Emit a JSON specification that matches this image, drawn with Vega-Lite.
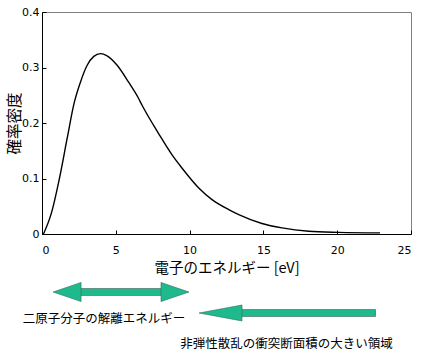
{
  "$schema": "https://vega.github.io/schema/vega-lite/v6.json",
  "padding": {"left": 7, "top": 5, "right": 5, "bottom": 3},
  "background": "white",
  "config": {"view": {"stroke": null}, "font": "Noto Sans CJK JP"},
  "spacing": 6,
  "vconcat": [
    {
      "width": 369,
      "height": 222,
      "view": {"stroke": "#808080", "strokeWidth": 1},
      "data": {"values": [
        {"energy": 0.1, "density": 0},
        {"energy": 0.64, "density": 0.038},
        {"energy": 1.14, "density": 0.095},
        {"energy": 1.71, "density": 0.173},
        {"energy": 2.16, "density": 0.234},
        {"energy": 2.61, "density": 0.274},
        {"energy": 3.06, "density": 0.304},
        {"energy": 3.51, "density": 0.32},
        {"energy": 3.96, "density": 0.325},
        {"energy": 4.41, "density": 0.321},
        {"energy": 5.09, "density": 0.304},
        {"energy": 5.88, "density": 0.273},
        {"energy": 6.51, "density": 0.246},
        {"energy": 6.78, "density": 0.232},
        {"energy": 7.9, "density": 0.181},
        {"energy": 8.8, "density": 0.143},
        {"energy": 9.48, "density": 0.119},
        {"energy": 10.62, "density": 0.083},
        {"energy": 11.52, "density": 0.062},
        {"energy": 12.65, "density": 0.044},
        {"energy": 13.33, "density": 0.035},
        {"energy": 14.9, "density": 0.019},
        {"energy": 16.26, "density": 0.011},
        {"energy": 18.07, "density": 0.005},
        {"energy": 20.1, "density": 0.003},
        {"energy": 22.9, "density": 0.002}
      ]},
      "mark": {"type": "line", "color": "black", "strokeWidth": 1.4, "interpolate": "monotone"},
      "encoding": {
        "x": {
          "field": "energy", "type": "quantitative",
          "scale": {"domain": [0, 25], "nice": false},
          "axis": {
            "values": [0, 5, 10, 15, 20, 25], "title": "電子のエネルギー [eV]", "grid": false,
            "tickSize": -4, "labelPadding": 14, "titlePadding": 6,
            "domainColor": "black", "tickColor": "black", "labelColor": "black", "titleColor": "black",
            "labelFont": "DejaVu Sans", "labelFontSize": 11, "titleFont": "Noto Sans CJK JP",
            "titleFontSize": 14.5, "titleFontWeight": "normal"
          }
        },
        "y": {
          "field": "density", "type": "quantitative",
          "scale": {"domain": [0, 0.4], "nice": false},
          "axis": {
            "values": [0, 0.1, 0.2, 0.3, 0.4], "format": ".1~f", "title": "確率密度", "grid": false,
            "tickSize": -4, "labelPadding": 7, "titlePadding": -1,
            "domainColor": "black", "tickColor": "black", "labelColor": "black", "titleColor": "black",
            "labelFont": "DejaVu Sans", "labelFontSize": 11, "titleFont": "Noto Sans CJK JP",
            "titleFontSize": 15.5, "titleFontWeight": "normal"
          }
        }
      }
    },
    {
      "width": 369,
      "height": 50,
      "layer": [
        {
          "data": {"values": [
            {"arrow": "解離", "from": 0.75, "to": 9.96, "row": "a"}
          ]},
          "mark": {"type": "rule", "strokeWidth": 7.5, "color": "#2f6f5c", "strokeCap": "butt", "xOffset": 18, "x2Offset": -18},
          "encoding": {
            "x": {"field": "from", "type": "quantitative", "scale": {"domain": [0, 25], "nice": false}, "axis": null},
            "x2": {"field": "to"},
            "y": {"field": "row", "type": "nominal", "scale": {"type": "point", "domain": ["a", "b", "c"], "padding": 0}, "axis": null}
          }
        },
        {
          "data": {"values": [
            {"arrow": "解離", "from": 0.75, "to": 9.96, "row": "a"}
          ]},
          "mark": {"type": "rule", "strokeWidth": 6, "color": "#1eb98c", "strokeCap": "butt", "xOffset": 18, "x2Offset": -18},
          "encoding": {
            "x": {"field": "from", "type": "quantitative", "scale": {"domain": [0, 25], "nice": false}, "axis": null},
            "x2": {"field": "to"},
            "y": {"field": "row", "type": "nominal", "scale": {"type": "point", "domain": ["a", "b", "c"], "padding": 0}, "axis": null}
          }
        },
        {
          "data": {"values": [
            {"arrow": "非弾性", "from": 10.64, "to": 22.56, "row": "b"}
          ]},
          "mark": {"type": "rule", "strokeWidth": 7.5, "color": "#2f6f5c", "strokeCap": "butt", "xOffset": 34, "x2Offset": 0.8, "yOffset": -4},
          "encoding": {
            "x": {"field": "from", "type": "quantitative", "scale": {"domain": [0, 25], "nice": false}, "axis": null},
            "x2": {"field": "to"},
            "y": {"field": "row", "type": "nominal", "scale": {"type": "point", "domain": ["a", "b", "c"], "padding": 0}, "axis": null}
          }
        },
        {
          "data": {"values": [
            {"arrow": "非弾性", "from": 10.64, "to": 22.56, "row": "b"}
          ]},
          "mark": {"type": "rule", "strokeWidth": 6, "color": "#1eb98c", "strokeCap": "butt", "xOffset": 34, "x2Offset": 0, "yOffset": -4},
          "encoding": {
            "x": {"field": "from", "type": "quantitative", "scale": {"domain": [0, 25], "nice": false}, "axis": null},
            "x2": {"field": "to"},
            "y": {"field": "row", "type": "nominal", "scale": {"type": "point", "domain": ["a", "b", "c"], "padding": 0}, "axis": null}
          }
        },
        {
          "data": {"values": [
            {"x": 0.75, "row": "a", "head": "left"},
            {"x": 9.96, "row": "a", "head": "right"}
          ]},
          "mark": {"type": "point", "filled": true, "opacity": 1, "size": 784, "color": "#1eb98c", "stroke": "#2f6f5c", "strokeWidth": 0.6},
          "encoding": {
            "x": {"field": "x", "type": "quantitative", "scale": {"domain": [0, 25], "nice": false}, "axis": null},
            "y": {"field": "row", "type": "nominal", "scale": {"type": "point", "domain": ["a", "b", "c"], "padding": 0}, "axis": null},
            "shape": {"field": "head", "type": "nominal", "scale": {"domain": ["left", "right", "long-left"], "range": ["M0,0L2,-0.68L2,0.68Z", "M0,0L-2,-0.68L-2,0.68Z", "M0,0L3.07,-0.57L3.07,0.57Z"]}, "legend": null}
          }
        },
        {
          "data": {"values": [
            {"x": 10.64, "row": "b", "head": "long-left"}
          ]},
          "mark": {"type": "point", "filled": true, "opacity": 1, "size": 784, "color": "#1eb98c", "stroke": "#2f6f5c", "strokeWidth": 0.6, "yOffset": -4},
          "encoding": {
            "x": {"field": "x", "type": "quantitative", "scale": {"domain": [0, 25], "nice": false}, "axis": null},
            "y": {"field": "row", "type": "nominal", "scale": {"type": "point", "domain": ["a", "b", "c"], "padding": 0}, "axis": null},
            "shape": {"field": "head", "type": "nominal", "scale": {"domain": ["left", "right", "long-left"], "range": ["M0,0L2,-0.68L2,0.68Z", "M0,0L-2,-0.68L-2,0.68Z", "M0,0L3.07,-0.57L3.07,0.57Z"]}, "legend": null}
          }
        },
        {
          "data": {"values": [
            {"text": "二原子分子の解離エネルギー", "x": 4.2, "row": "b"},
            {"text": "非弾性散乱の衝突断面積の大きい領域", "x": 16.56, "row": "c"}
          ]},
          "mark": {"type": "text", "font": "Noto Sans CJK JP", "fontSize": 12.5, "color": "black", "align": "center", "baseline": "middle", "dy": 2},
          "encoding": {
            "x": {"field": "x", "type": "quantitative", "scale": {"domain": [0, 25], "nice": false}, "axis": null},
            "y": {"field": "row", "type": "nominal", "scale": {"type": "point", "domain": ["a", "b", "c"], "padding": 0}, "axis": null},
            "text": {"field": "text"}
          }
        }
      ]
    }
  ]
}
